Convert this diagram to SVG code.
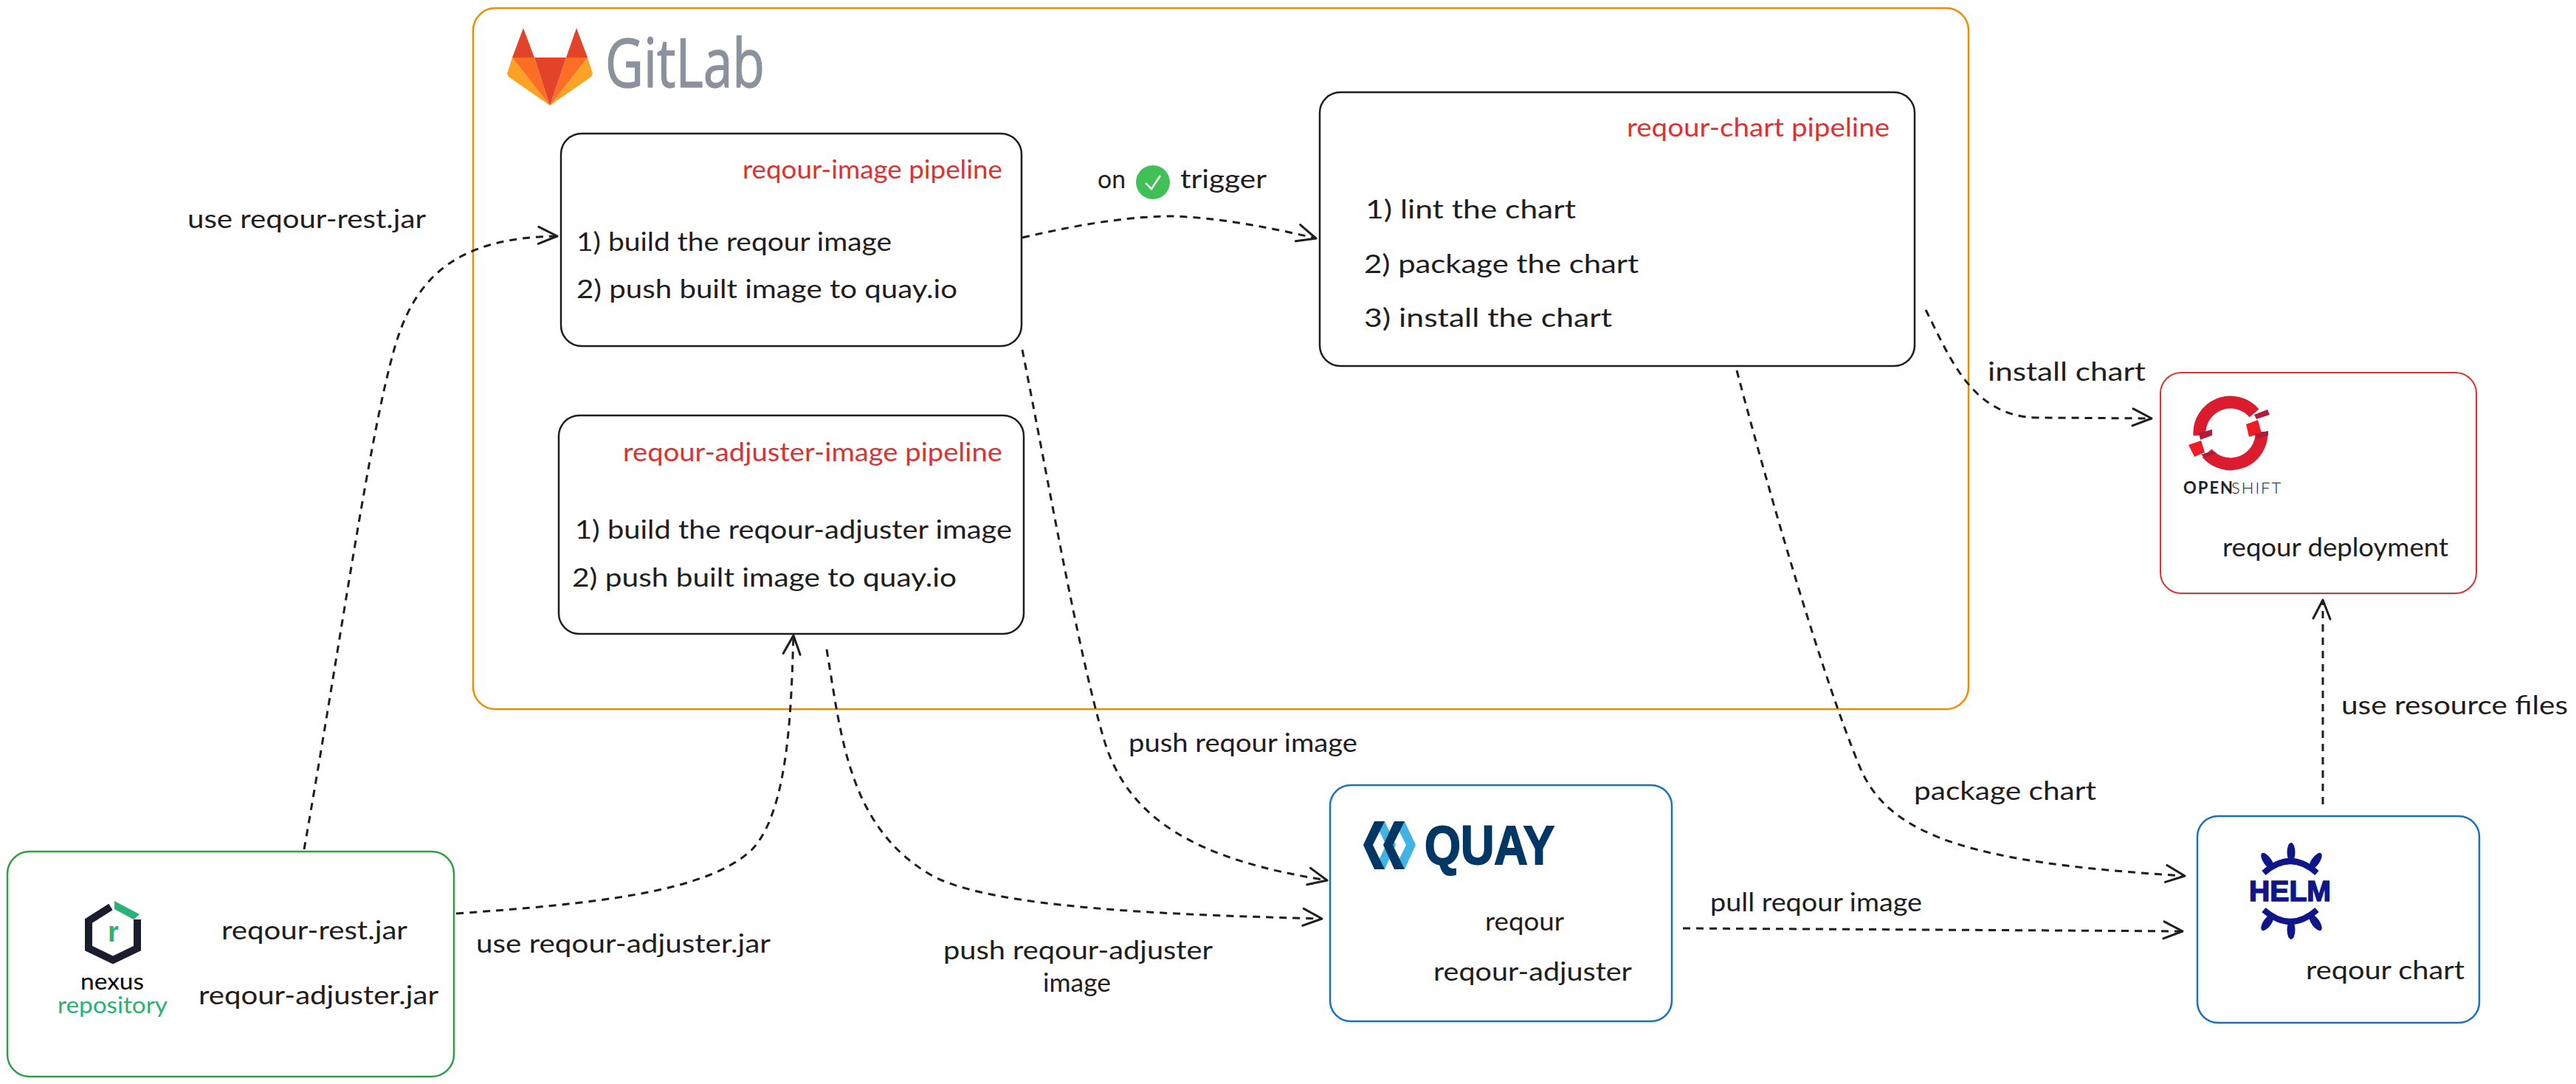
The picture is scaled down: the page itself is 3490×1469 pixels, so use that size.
<svg xmlns="http://www.w3.org/2000/svg" width="3490" height="1469" viewBox="0 0 3490 1469">
<style>
text{font-family:"Lato","Noto Sans",sans-serif;font-size:34px;fill:#1e1e1e}
text.r{fill:#e03131}
.box{fill:#fff;stroke-width:2.5}
.k{stroke:#1e1e1e}
.c path{fill:none;stroke:#1e1e1e;stroke-width:3;stroke-dasharray:10 8;marker-end:url(#a)}
.hx{font-family:"Liberation Sans",sans-serif;font-weight:700}
</style>
<defs>
<marker id="a" markerUnits="userSpaceOnUse" markerWidth="44" markerHeight="44" refX="38" refY="20" orient="auto" overflow="visible">
<path d="M13 7L38 20L12 30" fill="none" stroke="#1e1e1e" stroke-width="3" stroke-linecap="round" stroke-linejoin="round"/>
</marker>
</defs>
<rect width="3490" height="1469" fill="#fff"/>

<g id="gitlab">
<rect class="box" x="641" y="11" width="2026" height="950" rx="30" style="stroke:#f08c00"/>
<polygon points="687,100 694,78 745,143 689,104" fill="#fca326"/>
<polygon points="694,78 724,78 745,143" fill="#fc6d26"/>
<polygon points="803,100 796,78 745,143 801,104" fill="#fca326"/>
<polygon points="796,78 767,78 745,143" fill="#fc6d26"/>
<polygon points="724,78 767,78 745,143" fill="#e24329"/>
<polygon points="709,38 724,78 694,78" fill="#e24329"/>
<polygon points="781,38 796,78 767,78" fill="#e24329"/>
<text x="820" y="118" textLength="216" lengthAdjust="spacingAndGlyphs" style="font-size:92px;fill:#8c929d;stroke:#8c929d;stroke-width:1.5;font-family:'Open Sans',sans-serif">GitLab</text>
</g>

<g id="reqour-image-pipeline">
<rect class="box k" x="760" y="181" width="624" height="288" rx="28"/>
<text class="r" x="1006" y="242" textLength="352" lengthAdjust="spacingAndGlyphs">reqour-image pipeline</text>
<text x="781" y="340" textLength="427" lengthAdjust="spacingAndGlyphs">1) build the reqour image</text>
<text x="781" y="404" textLength="516" lengthAdjust="spacingAndGlyphs">2) push built image to quay.io</text>
</g>

<g id="reqour-adjuster-image-pipeline">
<rect class="box k" x="757" y="563" width="630" height="296" rx="28"/>
<text class="r" x="844" y="625" textLength="514" lengthAdjust="spacingAndGlyphs">reqour-adjuster-image pipeline</text>
<text x="779" y="730" textLength="592" lengthAdjust="spacingAndGlyphs">1) build the reqour-adjuster image</text>
<text x="775" y="795" textLength="521" lengthAdjust="spacingAndGlyphs">2) push built image to quay.io</text>
</g>

<g id="reqour-chart-pipeline">
<rect class="box k" x="1788" y="125" width="806" height="371" rx="28"/>
<text class="r" x="2204" y="185" textLength="356" lengthAdjust="spacingAndGlyphs">reqour-chart pipeline</text>
<text x="1850" y="296" textLength="285" lengthAdjust="spacingAndGlyphs">1) lint the chart</text>
<text x="1848" y="370" textLength="372" lengthAdjust="spacingAndGlyphs">2) package the chart</text>
<text x="1848" y="443" textLength="336" lengthAdjust="spacingAndGlyphs">3) install the chart</text>
</g>

<g id="nexus">
<rect class="box" x="10" y="1154" width="605" height="305" rx="30" style="stroke:#2f9e44"/>
<path d="M150 1229L120 1248V1285L153 1301L186 1285V1246" fill="none" stroke="#1a1d2b" stroke-width="10"/>
<polygon points="155,1221 189,1239 181,1246 155,1232" fill="#26b373"/>
<text class="hx" x="146" y="1276" style="font-size:38px;fill:#26b373">r</text>
<text x="109" y="1341" textLength="86" lengthAdjust="spacingAndGlyphs" style="font-size:30px;fill:#000">nexus</text>
<text x="78" y="1373" textLength="149" lengthAdjust="spacingAndGlyphs" style="font-size:30px;fill:#26b373">repository</text>
<text x="300" y="1273" textLength="252" lengthAdjust="spacingAndGlyphs">reqour-rest.jar</text>
<text x="269" y="1361" textLength="325" lengthAdjust="spacingAndGlyphs">reqour-adjuster.jar</text>
</g>

<g id="quay">
<rect class="box" x="1802" y="1064" width="463" height="320" rx="28" style="stroke:#1971c2"/>
<g fill="#40b4e5">
<polygon points="1918,1145 1903,1113 1889,1113 1905,1145 1889,1178 1903,1178"/>
<polygon points="1891,1145 1876,1113 1862,1113 1878,1145 1862,1178 1876,1178"/>
</g>
<g fill="#003764">
<polygon points="1847,1145 1862,1113 1876,1113 1860,1145 1876,1178 1862,1178"/>
<polygon points="1874,1145 1889,1113 1903,1113 1887,1145 1903,1178 1889,1178"/>
</g>
<text class="hx" x="1930" y="1171" textLength="176" lengthAdjust="spacingAndGlyphs" style="font-size:74px;fill:#003764;stroke:#003764;stroke-width:2">QUAY</text>
<text x="2012" y="1261" textLength="107" lengthAdjust="spacingAndGlyphs">reqour</text>
<text x="1942" y="1329" textLength="269" lengthAdjust="spacingAndGlyphs">reqour-adjuster</text>
</g>

<g id="openshift">
<rect class="box" x="2927" y="505" width="428" height="299" rx="28" style="stroke:#e03131;stroke-width:2"/>
<path d="M2980 590A42 42 0 0 1 3054 560M3064 585A42 42 0 0 1 2990 614" fill="none" stroke="#db1c2e" stroke-width="17"/>
<polygon points="3043,575 3059,569 3064,587 3047,592" fill="#ee1c25"/>
<polygon points="2965,603 2982,597 2987,613 2973,619" fill="#ee1c25"/>
<g fill="#b01b3c">
<polygon points="3054,562 3072,555 3075,562 3057,568"/>
<polygon points="2979,587 2997,582 2997,590 2981,596"/>
<polygon points="3055,588 3073,584 3073,590 3057,595"/>
<polygon points="2982,616 2998,611 3003,614 2987,620"/>
</g>
<text x="2958" y="669" style="font-size:22px;fill:#231f20;letter-spacing:2px"><tspan font-weight="700">OPEN</tspan><tspan x="3023" font-weight="300">SHIFT</tspan></text>
<text x="3011" y="754" textLength="306" lengthAdjust="spacingAndGlyphs">reqour deployment</text>
</g>

<g id="helm">
<rect class="box" x="2977" y="1106" width="382" height="280" rx="28" style="stroke:#1971c2"/>
<path d="M3067 1183Q3103 1151 3139 1183M3067 1233Q3103 1265 3139 1233" fill="none" stroke="#0f1689" stroke-width="8"/>
<g fill="#0f1689">
<ellipse cx="3104" cy="1155" rx="5.5" ry="13"/>
<ellipse cx="3072" cy="1167" rx="5.5" ry="13" transform="rotate(-35 3072 1167)"/>
<ellipse cx="3137" cy="1167" rx="5.5" ry="13" transform="rotate(35 3137 1167)"/>
<ellipse cx="3104" cy="1260" rx="5.5" ry="13"/>
<ellipse cx="3072" cy="1250" rx="5.5" ry="13" transform="rotate(35 3072 1250)"/>
<ellipse cx="3137" cy="1250" rx="5.5" ry="13" transform="rotate(-35 3137 1250)"/>
</g>
<text class="hx" x="3047" y="1221" textLength="111" lengthAdjust="spacingAndGlyphs" style="font-size:38px;fill:#0f1689;stroke:#0f1689;stroke-width:1.5">HELM</text>
<text x="3124" y="1327" textLength="215" lengthAdjust="spacingAndGlyphs">reqour chart</text>
</g>

<g id="connectors" class="c">
<path d="M412 1151C460 880 500 590 535 470C563 374 620 322 755 320"/>
<path d="M1385 322C1480 300 1540 293 1590 293C1650 295 1720 308 1783 323"/>
<path d="M2609 420C2640 480 2670 565 2760 566L2915 567"/>
<path d="M1385 474C1420 650 1460 880 1495 1000C1527 1110 1620 1165 1798 1193"/>
<path d="M618 1238C800 1225 960 1210 1020 1150C1070 1095 1072 950 1075 861"/>
<path d="M1120 880C1140 1000 1150 1120 1260 1185C1340 1232 1600 1240 1791 1245"/>
<path d="M2280 1258L2957 1262"/>
<path d="M2353 502C2400 680 2470 920 2520 1040C2560 1136 2680 1170 2960 1187"/>
<path d="M3147 1090L3147 813"/>
</g>

<g id="connector-labels">
<text x="254" y="309" textLength="323" lengthAdjust="spacingAndGlyphs">use reqour-rest.jar</text>
<text x="1487" y="255" textLength="38" lengthAdjust="spacingAndGlyphs">on</text>
<circle cx="1562" cy="247" r="23" fill="#40c057"/>
<path d="M1552 248L1560 256L1572 238" fill="none" stroke="#fff" stroke-width="2.5"/>
<text x="1599" y="255" textLength="117" lengthAdjust="spacingAndGlyphs">trigger</text>
<text x="2693" y="516" textLength="214" lengthAdjust="spacingAndGlyphs">install chart</text>
<text x="3172" y="968" textLength="307" lengthAdjust="spacingAndGlyphs">use resource files</text>
<text x="1529" y="1019" textLength="310" lengthAdjust="spacingAndGlyphs">push reqour image</text>
<text x="2593" y="1084" textLength="247" lengthAdjust="spacingAndGlyphs">package chart</text>
<text x="2317" y="1235" textLength="287" lengthAdjust="spacingAndGlyphs">pull reqour image</text>
<text x="645" y="1291" textLength="399" lengthAdjust="spacingAndGlyphs">use reqour-adjuster.jar</text>
<text x="1278" y="1300" textLength="365" lengthAdjust="spacingAndGlyphs">push reqour-adjuster</text>
<text x="1413" y="1344" textLength="92" lengthAdjust="spacingAndGlyphs">image</text>
</g>
</svg>
